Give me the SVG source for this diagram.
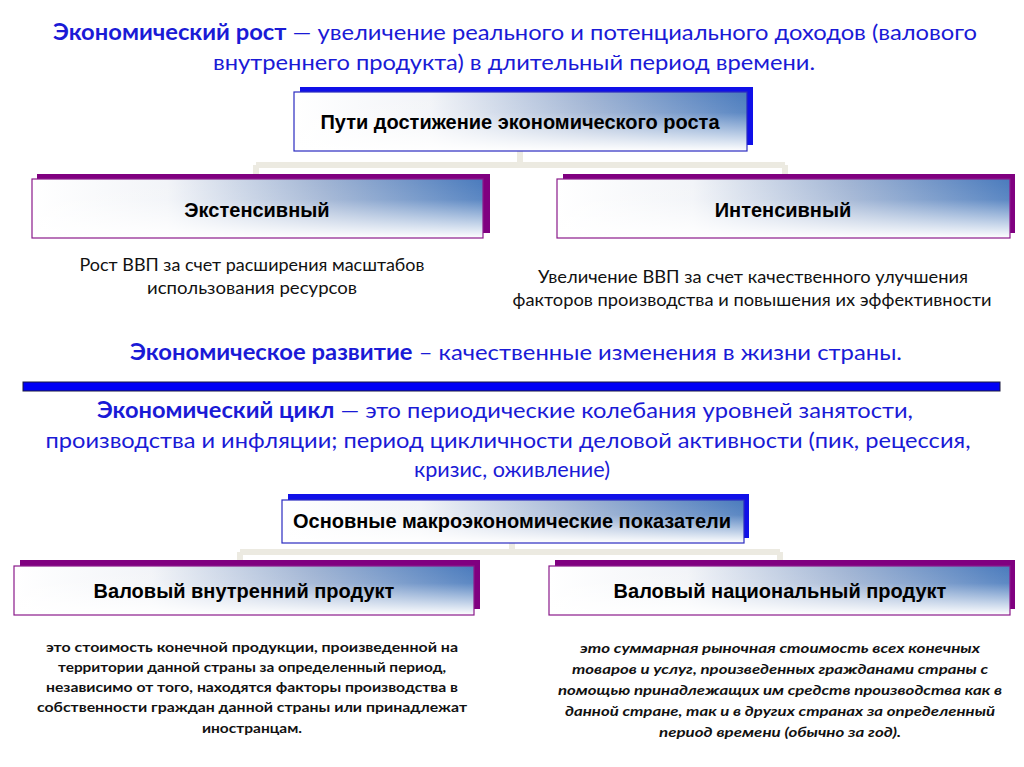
<svg xmlns="http://www.w3.org/2000/svg" width="1024" height="767" viewBox="0 0 1024 767">
<defs>
<linearGradient id="gh" x1="0" y1="0" x2="1" y2="0">
<stop offset="0" stop-color="#ffffff"/>
<stop offset="0.3" stop-color="#f2f4f8"/>
<stop offset="0.65" stop-color="#9fb3d3"/>
<stop offset="1" stop-color="#4a7bbd"/>
</linearGradient>
<linearGradient id="gv" x1="0" y1="0" x2="0" y2="1">
<stop offset="0" stop-color="#ffffff" stop-opacity="0"/>
<stop offset="0.35" stop-color="#ffffff" stop-opacity="0.1"/>
<stop offset="1" stop-color="#ffffff" stop-opacity="1"/>
</linearGradient>
<style>
.title{font-family:"Lato","Liberation Sans",sans-serif;font-size:22px;fill:#1a1ad6;text-anchor:middle}
.tb{font-weight:bold}
.box{fill:url(#gh)}
.ov{fill:url(#gv)}
.bblue{fill:none;stroke:#2b2bc0;stroke-width:1.2}
.bpur{fill:none;stroke:#8a1a8a;stroke-width:1.2}
.shb{fill:#1010e8}
.shp{fill:#800080}
.lbl{font-family:"Liberation Sans",Arial,sans-serif;font-weight:bold;font-size:20px;fill:#000;text-anchor:middle}
.desc{font-family:"Lato","Liberation Sans",sans-serif;font-size:17px;fill:#111;text-anchor:middle}
.small{font-family:"Lato","Liberation Sans",sans-serif;font-size:14px;font-weight:bold;fill:#111;text-anchor:middle}
.it{font-style:italic}
.conn{stroke:#eceae1;stroke-width:6;fill:none}
</style>
</defs>
<rect width="1024" height="767" fill="#ffffff"/>

<g id="title">
<text class="title" x="515" y="40" textLength="924" lengthAdjust="spacingAndGlyphs"><tspan class="tb">Экономический рост</tspan> — увеличение реального и потенциального доходов (валового</text>
<text class="title" x="514" y="70" textLength="602" lengthAdjust="spacingAndGlyphs">внутреннего продукта) в длительный период времени.</text>
</g>

<g id="connectors">
<path class="conn" d="M520 150 V165 M256 165 H785 M256 165 V178 M785 165 V178"/>
<path class="conn" d="M512 543 V552 M240 552 H780 M240 552 V565 M780 552 V565"/>
</g>

<g id="node-ways">
<rect class="shb" x="300" y="87" width="453" height="58"/>
<rect class="box" x="294" y="92" width="453" height="59"/>
<rect class="ov" x="294" y="92" width="453" height="59"/>
<rect class="bblue" x="294" y="92" width="453" height="59"/>
<text class="lbl" x="520" y="129">Пути достижение экономического роста</text>
</g>

<g id="node-extensive">
<rect class="shp" x="37" y="174" width="453" height="59"/>
<rect class="box" x="32" y="179" width="451" height="59"/>
<rect class="ov" x="32" y="179" width="451" height="59"/>
<rect class="bpur" x="32" y="179" width="451" height="59"/>
<text class="lbl" x="257" y="217">Экстенсивный</text>
</g>

<g id="node-intensive">
<rect class="shp" x="563" y="174" width="452" height="59"/>
<rect class="box" x="557" y="179" width="453" height="59"/>
<rect class="ov" x="557" y="179" width="453" height="59"/>
<rect class="bpur" x="557" y="179" width="453" height="59"/>
<text class="lbl" x="783" y="217">Интенсивный</text>
</g>

<g id="desc-extensive">
<text class="desc" x="252" y="271" textLength="345" lengthAdjust="spacingAndGlyphs">Рост ВВП за счет расширения масштабов</text>
<text class="desc" x="252" y="294" textLength="210" lengthAdjust="spacingAndGlyphs">использования ресурсов</text>
</g>

<g id="desc-intensive">
<text class="desc" x="753" y="283" textLength="430" lengthAdjust="spacingAndGlyphs">Увеличение ВВП за счет качественного улучшения</text>
<text class="desc" x="752" y="306" textLength="479" lengthAdjust="spacingAndGlyphs">факторов производства и повышения их эффективности</text>
</g>

<g id="development">
<text class="title" x="516" y="360" textLength="772" lengthAdjust="spacingAndGlyphs"><tspan class="tb">Экономическое развитие</tspan> – качественные изменения в жизни страны.</text>
</g>

<g id="divider">
<rect x="23" y="382" width="977" height="9" fill="#0000f5" stroke="#1a1a40" stroke-width="1"/>
</g>

<g id="cycle">
<text class="title" x="505" y="418" textLength="816" lengthAdjust="spacingAndGlyphs"><tspan class="tb">Экономический цикл</tspan> — это периодические колебания уровней занятости,</text>
<text class="title" x="508" y="448" textLength="925" lengthAdjust="spacingAndGlyphs">производства и инфляции; период цикличности деловой активности (пик, рецессия,</text>
<text class="title" x="512" y="477" textLength="196" lengthAdjust="spacingAndGlyphs">кризис, оживление)</text>
</g>

<g id="node-indicators">
<rect class="shb" x="288" y="494" width="461" height="44"/>
<rect class="box" x="282" y="500" width="462" height="43"/>
<rect class="ov" x="282" y="500" width="462" height="43"/>
<rect class="bblue" x="282" y="500" width="462" height="43"/>
<text class="lbl" x="512" y="528">Основные макроэкономические показатели</text>
</g>

<g id="node-gdp">
<rect class="shp" x="20" y="560" width="460" height="49"/>
<rect class="box" x="14" y="566" width="460" height="49"/>
<rect class="ov" x="14" y="566" width="460" height="49"/>
<rect class="bpur" x="14" y="566" width="460" height="49"/>
<text class="lbl" x="244" y="598">Валовый внутренний продукт</text>
</g>

<g id="node-gnp">
<rect class="shp" x="555" y="560" width="460" height="49"/>
<rect class="box" x="549" y="566" width="461" height="49"/>
<rect class="ov" x="549" y="566" width="461" height="49"/>
<rect class="bpur" x="549" y="566" width="461" height="49"/>
<text class="lbl" x="780" y="598">Валовый национальный продукт</text>
</g>

<g id="desc-gdp">
<text class="small" x="252" y="652" textLength="412" lengthAdjust="spacingAndGlyphs">это стоимость конечной продукции, произведенной на</text>
<text class="small" x="252" y="672" textLength="388" lengthAdjust="spacingAndGlyphs">территории данной страны за определенный период,</text>
<text class="small" x="252" y="692" textLength="412" lengthAdjust="spacingAndGlyphs">независимо от того, находятся факторы производства в</text>
<text class="small" x="252" y="712" textLength="430" lengthAdjust="spacingAndGlyphs">собственности граждан данной страны или принадлежат</text>
<text class="small" x="252" y="733" textLength="100" lengthAdjust="spacingAndGlyphs">иностранцам.</text>
</g>

<g id="desc-gnp">
<text class="small it" x="780" y="653" textLength="400" lengthAdjust="spacingAndGlyphs">это суммарная рыночная стоимость всех конечных</text>
<text class="small it" x="780" y="674" textLength="416" lengthAdjust="spacingAndGlyphs">товаров и услуг, произведенных гражданами страны с</text>
<text class="small it" x="780" y="695" textLength="444" lengthAdjust="spacingAndGlyphs">помощью принадлежащих им средств производства как в</text>
<text class="small it" x="780" y="716" textLength="430" lengthAdjust="spacingAndGlyphs">данной стране, так и в других странах за определенный</text>
<text class="small it" x="780" y="737" textLength="242" lengthAdjust="spacingAndGlyphs">период времени (обычно за год).</text>
</g>
</svg>
